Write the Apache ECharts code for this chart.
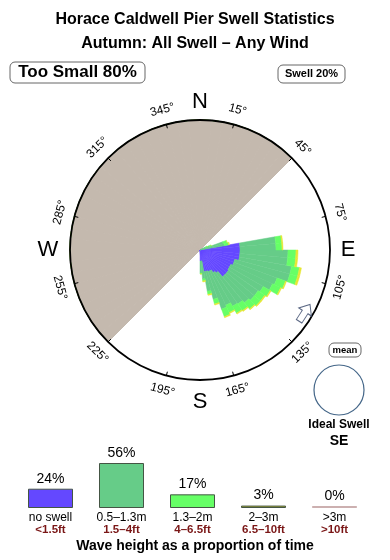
<!DOCTYPE html>
<html><head><meta charset="utf-8">
<script src="https://cdn.jsdelivr.net/npm/echarts@6/dist/echarts.min.js"></script>
<style>html,body{margin:0;padding:0;background:#fff}#c{width:390px;height:560px}</style>
</head><body><div id="c"></div>
<script>
const FONT = '"Liberation Sans", Arial, Helvetica, sans-serif';

// ---- Rose data (bin start bearing, 5 degree bins), radial units of the rose scale ----
const roseBearings = [60,65,70,75,80,85,90,95,100,105,110,115,120,125,130,135,140,145,150,155,160,165,170,175];
const noSwell      = [ 0, 0, 2, 3,40,40,40,40,40,36,36,34,34,35,35,35,28,26,23,23,22,22,11,11];
const wave05to13   = [ 6,10,22,22,36,36,48,48,53,57,46,46,39,36,36,34,38,39,38,40,29,20,18,12];
const wave13to2    = [ 2, 2, 4, 4, 6, 6, 8, 8, 8, 8, 9, 9, 8, 8, 8, 8, 8, 8, 8, 8, 5, 3, 2, 1];
const wave2to3     = [ 0, 0, 0, 1, 1, 1, 2, 2, 2, 2, 1, 1, 1, 1, 1, 1, 1, 1, 1, 1, 1, 1, 1, 0];
const landFrom = 225, landTo = 45;     // shaded land sector (bearings)
const roseMax = 130;
const meanDir = 121;                    // mean swell direction arrow
const tickBearings = [15,45,75,105,135,165,195,225,255,285,315,345];
const cardinals = [['N',0],['E',90],['S',180],['W',270]];

// ---- Summary ----
const tooSmallPct = 80, swellPct = 20;
const idealDir = 'SE';
const legendCats = ['no swell','0.5\u20131.3m','1.3\u20132m','2\u20133m','>3m'];
const legendFeet = ['<1.5ft','1.5\u20134ft','4\u20136.5ft','6.5\u201310ft','>10ft'];
const legendPct = [24,56,17,3,0];

const COLORS = ['#6448ff','#66cc88','#66ff66','#e6e633','#ccaaaa'];
const LEG_COLORS = ['#6448ff','#66cc88','#66ff66','#bbbb33','#ccaaaa'];

const NB = 72;
const binCats = Array.from({length:NB},(_,i)=>String(i*5));
function fullBins(arr){const o=new Array(NB).fill(0);roseBearings.forEach((b,i)=>{o[b/5]=arr[i];});return o;}
const land = binCats.map(c=>{const b=+c;return (b>=landFrom||b<landTo)?roseMax:0;});

const CX=200, CY=250, R=130;
const graphics = [];
function txt(x,y,text,font,fill,rot){graphics.push({type:'text',x:x,y:y,rotation:rot||0,z:100,style:{text:text,font:font,fill:fill||'#000',align:'center',verticalAlign:'middle'}});}
function box(x,y,w,h){graphics.push({type:'rect',z:90,shape:{x:x,y:y,width:w,height:h,r:5},style:{fill:'#fff',stroke:'#666',lineWidth:1}});}

tickBearings.forEach(b=>{
  const a=b*Math.PI/180, r=145;
  let rot = (b>90&&b<270)? b-180 : (b>=270? b-360 : b);
  txt(CX+r*Math.sin(a), CY-r*Math.cos(a), b+'\u00b0', '12px '+FONT, '#000', -rot*Math.PI/180);
});
cardinals.forEach(([t,b])=>{
  const a=b*Math.PI/180, r=(b===0||b===90)?148:152;
  txt(CX+r*Math.sin(a), CY-r*Math.cos(a), t, '22px '+FONT, '#000');
});
box(10,62,135,21); txt(77.5,72.5,'Too Small '+tooSmallPct+'%','bold 17px '+FONT);
box(278,65,67,18); txt(311.5,74,'Swell '+swellPct+'%','bold 11px '+FONT);
box(329,343,32,14); txt(345,350,'mean','bold 9.5px '+FONT);
graphics.push({type:'circle',z:90,shape:{cx:339,cy:390,r:25},style:{fill:'#fff',stroke:'#446688',lineWidth:1.2}});
txt(339,425,'Ideal Swell','bold 12px '+FONT);
txt(339,441,idealDir,'bold 14px '+FONT);
txt(195,546,'Wave height as a proportion of time','bold 14px '+FONT);

const roseLayers=[noSwell,wave05to13,wave13to2,wave2to3];
const roseSeries = roseLayers.map((arr,i)=>({
  type:'bar',coordinateSystem:'polar',polarIndex:0,stack:'rose',barCategoryGap:'0%',
  data:fullBins(arr),itemStyle:{color:COLORS[i],borderColor:COLORS[i],borderWidth:0.5},silent:true,z:3
}));
roseSeries.unshift({type:'bar',coordinateSystem:'polar',polarIndex:0,stack:'rose',barCategoryGap:'0%',
  data:land,itemStyle:{color:'#c4b9ae',borderColor:'#c4b9ae',borderWidth:1},silent:true,z:2});

const chart = echarts.init(document.getElementById('c'),null,{renderer:'canvas'});
chart.setOption({
  animation:false,
  title:{text:'Horace Caldwell Pier Swell Statistics\nAutumn: All Swell \u2013 Any Wind',left:'center',top:3,
    textStyle:{fontFamily:FONT,fontSize:16,fontWeight:'bold',color:'#000',lineHeight:24}},
  polar:[{center:[CX,CY],radius:R},{center:[CX,CY],radius:R},{center:[CX,CY],radius:R}],
  angleAxis:[
    {polarIndex:0,type:'category',data:binCats,startAngle:90,clockwise:true,z:10,
      axisLine:{show:true,lineStyle:{color:'#000',width:1.8}},axisTick:{show:false},axisLabel:{show:false},splitLine:{show:false}},
    {polarIndex:1,type:'value',min:0,max:360,interval:30,startAngle:75,clockwise:true,z:10,
      axisLine:{show:false},axisTick:{show:true,inside:true,length:4,lineStyle:{color:'#000',width:1}},axisLabel:{show:false},splitLine:{show:false}},
    {polarIndex:2,type:'value',min:0,max:360,startAngle:90,clockwise:true,show:false}
  ],
  radiusAxis:[
    {polarIndex:0,min:0,max:roseMax,show:false},
    {polarIndex:1,min:0,max:roseMax,show:false},
    {polarIndex:2,min:0,max:roseMax,show:false}
  ],
  grid:{left:15,width:355,top:463,height:45},
  xAxis:{type:'category',data:legendCats,axisLine:{show:false},axisTick:{show:false},
    axisLabel:{interval:0,margin:4,formatter:(v,i)=>'{a|'+v+'}\n{b|'+legendFeet[i]+'}',
      rich:{a:{fontFamily:FONT,fontSize:12,color:'#000',lineHeight:12},b:{fontFamily:FONT,fontSize:11.5,fontWeight:'bold',color:'#7a1616',lineHeight:12}}}},
  yAxis:{type:'value',min:0,max:56,show:false},
  series: roseSeries.concat([
    {type:'scatter',coordinateSystem:'polar',polarIndex:2,data:[[122,meanDir]],
      symbol:'path://M0,0 L9,9 L4,9 L4,20 L-4,20 L-4,9 L-9,9 Z',symbolSize:[15,20],symbolRotate:-33,
      itemStyle:{color:'#fff',borderColor:'#334466',borderWidth:1},silent:true,z:20},
    {type:'bar',barWidth:45,barMinHeight:2,
      data:legendPct.map((v,i)=>({value:v,itemStyle:{color:LEG_COLORS[i],borderColor:i===4?'#ccb0b0':'#445544',borderWidth:1}})),
      label:{show:true,position:'top',distance:3,formatter:'{c}%',fontFamily:FONT,fontSize:14,color:'#000'},silent:true}
  ]),
  graphic:graphics
});
</script></body></html>
